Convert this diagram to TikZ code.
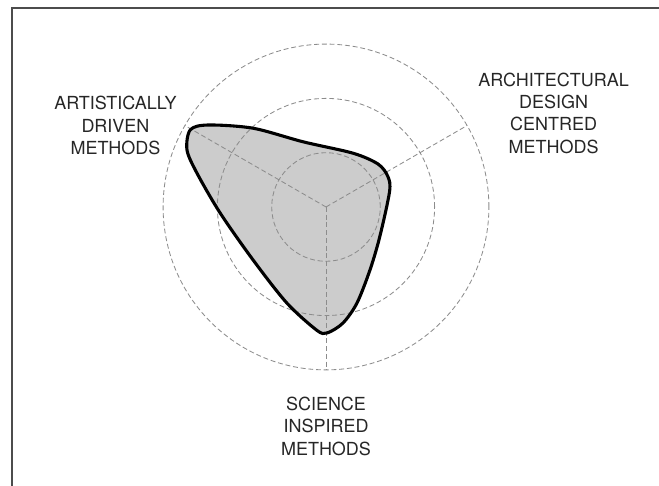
\documentclass[tikz,border=0pt]{standalone}
\usepackage{fontspec}
\setmainfont{TeX Gyre Heros}
\usetikzlibrary{positioning}

\tikzset{
	frame/.style={draw=black!70, line width=1pt},
	guide/.style={draw=black!45, line width=0.6pt, dash pattern=on 3.5pt off 2pt},
	blobfill/.style={fill=black!20},
	bloboutline/.style={draw=black, line width=2.2pt, line join=round},
	axislabel/.style={align=center, inner sep=0pt, text=black!85,
		font=\fontsize{12.8}{15.9}\selectfont},
}

\begin{document}
\begin{tikzpicture}[
		x=1.3575cm, y=1.3575cm,
	]
		\useasboundingbox (-6.004,-5.138) rectangle (6.133,3.812);
		\coordinate (centre) at (0,0);
		\coordinate (artend) at (150:3);
		\coordinate (archend) at (30:3);
		\coordinate (sciend) at (270:3);
		\coordinate (frametl) at (-5.783,3.665);
		\coordinate (framebl) at (-5.783,-5.138);
		\coordinate (frametr) at (6.133,3.665);

		\draw[frame] (framebl) -- (frametl) -- (frametr);

		% profile of the approach
		\path[save path=\blobshape] plot[smooth cycle, tension=0.5] coordinates {
			(-2.50,1.42) (-2.17,1.51) (-1.34,1.45) (-0.42,1.20) (0.50,0.99)
			(0.96,0.79) (1.14,0.56) (1.17,0.28) (0.99,-0.55) (0.81,-1.16)
			(0.57,-1.77) (0.31,-2.14) (0.02,-2.32) (-0.17,-2.27) (-0.72,-1.77)
			(-1.34,-0.98) (-1.95,-0.11) (-2.38,0.63) (-2.56,1.05)
		};
		\fill[blobfill, use path=\blobshape];

		\foreach \r in {1,2,3}
			\draw[guide] (centre) circle (\r);
		\draw[guide] (centre) -- (artend);
		\draw[guide] (centre) -- (archend);
		\draw[guide] (centre) -- (sciend);

		\draw[bloboutline, use path=\blobshape];

		\node[axislabel, left=0.2cm of artend] (art) {ARTISTICALLY\\DRIVEN\\METHODS};
		\node[axislabel, right=0.275cm of archend, yshift=0.31cm] (arch) {ARCHITECTURAL\\DESIGN\\CENTRED\\METHODS};
		\node[axislabel, below=0.675cm of sciend] (sci) {SCIENCE\\INSPIRED\\METHODS};
	\end{tikzpicture}
\end{document}
